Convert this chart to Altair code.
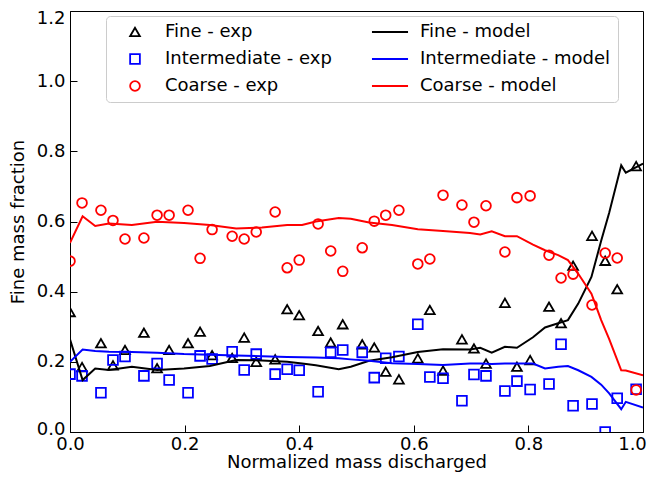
import altair as alt
import pandas as pd

# ---- experimental data ----
exp_x = [0.000, 0.021, 0.054, 0.075, 0.096, 0.129, 0.152, 0.173, 0.206, 0.227,
         0.248, 0.283, 0.304, 0.325, 0.358, 0.379, 0.400, 0.433, 0.455, 0.476,
         0.510, 0.531, 0.551, 0.574, 0.607, 0.628, 0.651, 0.684, 0.705, 0.726,
         0.759, 0.780, 0.803, 0.836, 0.857, 0.878, 0.911, 0.934, 0.955, 0.988]
fine_exp = [0.342, 0.185, 0.253, 0.190, 0.234, 0.283, 0.182, 0.234, 0.253, 0.286,
            0.219, 0.211, 0.269, 0.200, 0.207, 0.350, 0.333, 0.288, 0.255, 0.307,
            0.250, 0.241, 0.172, 0.150, 0.210, 0.348, 0.175, 0.264, 0.238, 0.195,
            0.368, 0.186, 0.205, 0.357, 0.310, 0.474, 0.559, 0.488, 0.407, 0.758]
inter_exp = [0.165, 0.160, 0.112, 0.205, 0.215, 0.160, 0.195, 0.148, 0.112, 0.217,
             0.208, 0.229, 0.177, 0.222, 0.165, 0.179, 0.176, 0.115, 0.227, 0.234,
             0.227, 0.155, 0.210, 0.215, 0.307, 0.157, 0.153, 0.089, 0.164, 0.160,
             0.117, 0.145, 0.121, 0.137, 0.250, 0.075, 0.080, 0.000, 0.096, 0.122]
coarse_exp = [0.487, 0.653, 0.632, 0.603, 0.550, 0.553, 0.618, 0.618, 0.632, 0.495,
              0.577, 0.558, 0.550, 0.570, 0.627, 0.468, 0.490, 0.593, 0.516, 0.458,
              0.525, 0.601, 0.618, 0.632, 0.479, 0.493, 0.675, 0.647, 0.598, 0.645,
              0.513, 0.668, 0.673, 0.504, 0.439, 0.450, 0.362, 0.510, 0.496, 0.120]

# ---- model data ----
model_x = [0.000, 0.022, 0.044, 0.068, 0.108, 0.152, 0.199, 0.244, 0.290, 0.335,
           0.379, 0.405, 0.429, 0.469, 0.490, 0.522, 0.562, 0.607, 0.651, 0.698,
           0.716, 0.736, 0.759, 0.780, 0.808, 0.829, 0.852, 0.869, 0.887, 0.910,
           0.927, 0.941, 0.962, 0.970, 1.000]
fine_model = [0.264, 0.148, 0.181, 0.177, 0.186, 0.177, 0.181, 0.188, 0.205, 0.204,
              0.200, 0.195, 0.190, 0.179, 0.186, 0.203, 0.213, 0.228, 0.236, 0.235,
              0.240, 0.226, 0.243, 0.240, 0.270, 0.298, 0.310, 0.319, 0.366, 0.442,
              0.545, 0.625, 0.760, 0.739, 0.765]
inter_model = [0.200, 0.235, 0.231, 0.229, 0.228, 0.226, 0.222, 0.220, 0.218, 0.216,
               0.214, 0.213, 0.212, 0.210, 0.207, 0.203, 0.196, 0.194, 0.191, 0.195,
               0.195, 0.194, 0.195, 0.195, 0.195, 0.181, 0.186, 0.188, 0.176, 0.157,
               0.135, 0.110, 0.065, 0.086, 0.070]
coarse_model = [0.539, 0.615, 0.587, 0.594, 0.590, 0.599, 0.596, 0.590, 0.580, 0.583,
                0.590, 0.590, 0.600, 0.610, 0.608, 0.597, 0.590, 0.578, 0.573, 0.567,
                0.563, 0.572, 0.558, 0.558, 0.534, 0.518, 0.504, 0.490, 0.451, 0.394,
                0.319, 0.265, 0.176, 0.175, 0.162]

# legend order (column-major, 2 columns)
series_order = ["Fine - exp", "Intermediate - exp", "Coarse - exp",
                "Fine - model", "Intermediate - model", "Coarse - model"]
series_colors = ["black", "blue", "red", "black", "blue", "red"]
stroke_path = "M-3.7,0L3.7,0"
series_shapes = ["triangle-up", "square", "circle", stroke_path, stroke_path, stroke_path]
x_ticks = [0.0, 0.2, 0.4, 0.6, 0.8, 1.0]
y_ticks = [0.0, 0.2, 0.4, 0.6, 0.8, 1.0, 1.2]

rows = []
for name, vals in [("Fine - exp", fine_exp), ("Intermediate - exp", inter_exp),
                   ("Coarse - exp", coarse_exp)]:
    for xv, yv in zip(exp_x, vals):
        rows.append({"x": xv, "y": yv, "series": name})
exp_df = pd.DataFrame(rows)

rows = []
for name, vals in [("Fine - model", fine_model), ("Intermediate - model", inter_model),
                   ("Coarse - model", coarse_model)]:
    for xv, yv in zip(model_x, vals):
        rows.append({"x": xv, "y": yv, "series": name})
model_df = pd.DataFrame(rows)

FONT = "DejaVu Sans"
FS = 18
MS = 95

legend = alt.Legend(
    orient="none", legendX=36, legendY=5, columns=2, direction="vertical", title=None,
    labelFontSize=FS, labelFont=FONT, labelColor="black", labelLimit=300,
    symbolSize=MS, symbolStrokeWidth=1.8, symbolFillColor="transparent", symbolOpacity=1,
    symbolOffset=13, labelOffset=21, rowPadding=9, columnPadding=36, padding=7,
    strokeColor="#cccccc", fillColor="white", cornerRadius=4,
)

color_enc = alt.Color("series:N", scale=alt.Scale(domain=series_order, range=series_colors),
                      legend=legend)
shape_enc = alt.Shape("series:N", scale=alt.Scale(domain=series_order, range=series_shapes),
                      legend=legend)

x_scale = alt.Scale(domain=[0, 1], nice=False, zero=False)
y_scale = alt.Scale(domain=[0, 1.2], nice=False)

x_label_offset = {"condition": {"test": "datum.value > 0.9", "value": -11}, "value": 0}
y_label_offset = {"condition": [{"test": "datum.value > 1.1", "value": 7},
                                {"test": "datum.value < 0.1", "value": -3}],
                  "value": 0}

# axes with labels (no ticks)
x_axis_lab = alt.Axis(orient="bottom", values=x_ticks, format=".1f", ticks=False,
                      domain=True, domainColor="black", domainWidth=1,
                      grid=False, labelPadding=3, labelFlush=False, labelOverlap=False,
                      labelOffset=x_label_offset,
                      title="Normalized mass discharged",
                      titlePadding=0, labelFontSize=FS, titleFontSize=FS, titleFontWeight="normal",
                      labelFont=FONT, titleFont=FONT, labelColor="black", titleColor="black")
y_axis_lab = alt.Axis(orient="left", values=y_ticks, format=".1f", ticks=False,
                      domain=True, domainColor="black", domainWidth=1,
                      grid=False, labelPadding=5, labelFlush=False, labelOverlap=False,
                      labelOffset=y_label_offset,
                      title="Fine mass fraction",
                      titlePadding=9, labelFontSize=FS, titleFontSize=FS, titleFontWeight="normal",
                      labelFont=FONT, titleFont=FONT, labelColor="black", titleColor="black")
# inward ticks only
x_axis_tick = alt.Axis(orient="bottom", values=x_ticks, labels=False, ticks=True, tickSize=7,
                       tickColor="black", tickWidth=1, domain=False, grid=False, title=None, offset=-7)
y_axis_tick = alt.Axis(orient="left", values=y_ticks, labels=False, ticks=True, tickSize=7,
                       tickColor="black", tickWidth=1, domain=False, grid=False, title=None, offset=-7)

points = alt.Chart(exp_df).mark_point(filled=False, size=MS, strokeWidth=1.8, opacity=1,
                                      clip=True).encode(
    x=alt.X("x:Q", scale=x_scale, axis=x_axis_tick),
    y=alt.Y("y:Q", scale=y_scale, axis=y_axis_tick),
    color=color_enc,
    shape=shape_enc,
)

lines = alt.Chart(model_df).mark_line(strokeWidth=2, clip=True).encode(
    x=alt.X("x:Q", scale=x_scale, axis=x_axis_lab),
    y=alt.Y("y:Q", scale=y_scale, axis=y_axis_lab),
    color=color_enc,
)

chart = alt.layer(points, lines).resolve_axis(x="independent", y="independent").properties(
    width=573, height=421,
    autosize=alt.AutoSizeParams(type="none"),
    padding={"left": 62, "top": 3, "right": 4, "bottom": 40},
).configure_view(stroke="black", strokeWidth=1)

chart.save("out.html", embed_options={"renderer": "svg", "actions": False})
